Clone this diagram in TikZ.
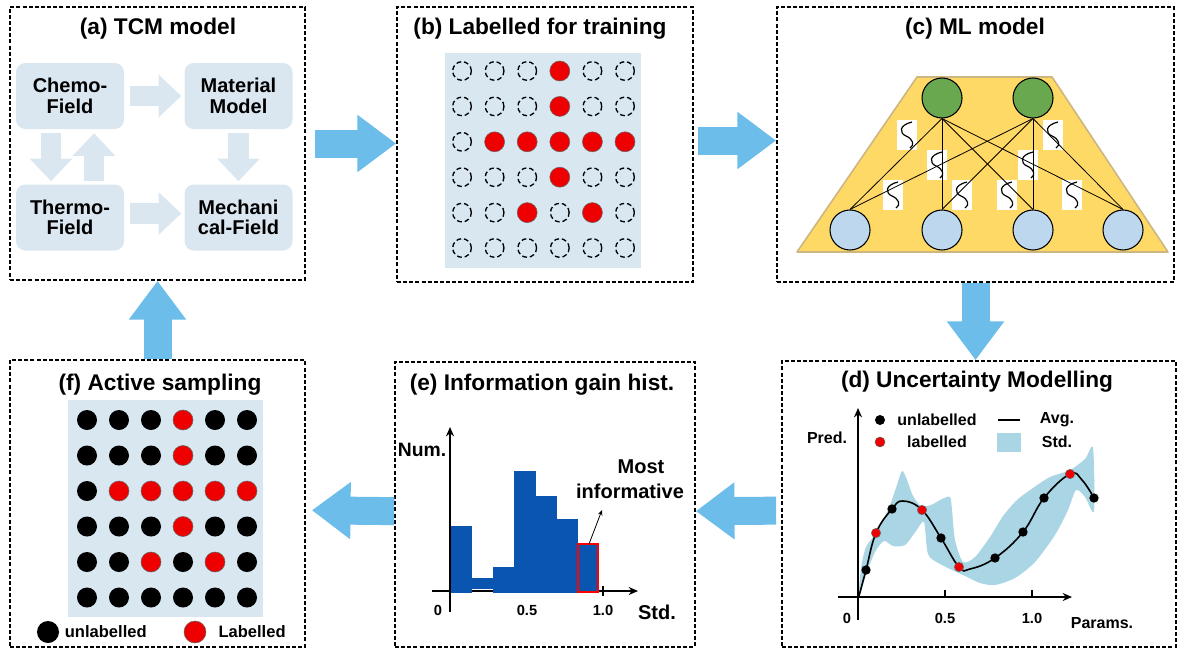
\documentclass[tikz,border=0pt]{standalone}
\usepackage{fontspec}
\setmainfont{Liberation Sans}
\usetikzlibrary{arrows.meta, positioning, calc, fit}
\definecolor{flowblue}{HTML}{6CBDE9}
\definecolor{fieldblue}{HTML}{DAE7F1}
\definecolor{gridblue}{HTML}{D8E7F0}
\definecolor{pointred}{HTML}{EE0000}
\definecolor{layeryellow}{HTML}{FFD966}
\definecolor{layeredge}{HTML}{CDB680}
\definecolor{outgreen}{HTML}{6AA84F}
\definecolor{inblue}{HTML}{BDD7EE}
\definecolor{stdblue}{HTML}{A9D5E4}
\definecolor{histblue}{HTML}{0A55B0}

\begin{document}
\begin{tikzpicture}[x=0.75pt, y=-0.75pt,
    panel/.style={draw, line width=1.3pt, dash pattern=on 3pt off 1.6pt, inner sep=0pt},
    ttl/.style={font=\fontsize{17}{20}\selectfont\bfseries},
    fieldbox/.style={fill=fieldblue, rounded corners=7pt, minimum width=81pt,
      minimum height=49.5pt, align=center, font=\fontsize{15}{15.5}\selectfont\bfseries},
    bigarrow/.style={draw=flowblue, line width=21pt, -{Triangle[length=29pt, width=41pt]}},
    fieldarrow/.style={draw=fieldblue, line width=15.5pt, -{Triangle[length=17pt, width=31pt]}},
    emptypt/.style={circle, draw, line width=1pt, dash pattern=on 3.6pt off 2.2pt,
      minimum size=14pt, inner sep=0pt},
    labpt/.style={circle, fill=pointred, draw=black!60, line width=0.4pt,
      minimum size=15pt, inner sep=0pt},
    unlabpt/.style={circle, fill=black, minimum size=15pt, inner sep=0pt},
    outnode/.style={circle, draw, line width=0.8pt, fill=outgreen, minimum size=30pt, inner sep=0pt},
    innode/.style={circle, draw, line width=0.8pt, fill=inblue, minimum size=30pt, inner sep=0pt},
    sigbox/.style={fill=white, minimum width=15pt, minimum height=22.5pt, inner sep=0pt},
    squiggle/.pic={\draw[line width=0.9pt]
        (5,-13) .. controls (-8,-10) and (-8,-2) .. (-1,1)
        .. controls (6,4) and (8,10) .. (3,13);},
    axisline/.style={line width=2pt, -{Stealth[length=7pt, width=6pt]}},
    lbl/.style={font=\fontsize{12}{14}\selectfont\bfseries, inner sep=1pt},
    numlbl/.style={font=\fontsize{11}{13}\selectfont\bfseries, inner sep=1pt},
    biglbl/.style={font=\fontsize{15}{17}\selectfont\bfseries, inner sep=1pt}
  ]
  \useasboundingbox (0,0) rectangle (1180,653);

  % panels
  \node[panel, fit={(10,7) (305,280)}] (pa) {};
  \node[panel, fit={(397,7) (693,282)}] (pb) {};
  \node[panel, fit={(777,7) (1174,282)}] (pc) {};
  \node[panel, fit={(782,361) (1176,647)}] (pd) {};
  \node[panel, fit={(395,362) (695,647)}] (pe) {};
  \node[panel, fit={(10,360) (305,647)}] (pf) {};

  % flow between panels
  \draw[bigarrow] ([xshift=6.75pt]pa.east) -- (pa.east -| pb.west);
  \draw[bigarrow] ([xshift=3pt, yshift=3pt]pb.east) -- ([yshift=3pt]pc.west);
  \draw[bigarrow] (pc.south) -- (pc.south |- pd.north);
  \draw[bigarrow] ([xshift=-3.75pt, yshift=-5pt]pd.west) -- ([yshift=-5pt]pe.east);
  \draw[bigarrow, shorten >=4.5pt] ([yshift=-5pt]pe.west) -- ([yshift=-5pt]pf.east);
  \draw[bigarrow] (pf.north) -- (pa.south);

  % (a) TCM model
  \node[ttl] (ttla) at (158,29) {(a) TCM model};
  \node[fieldbox] (chemo) at (70,96) {Chemo-\\Field};
  \node[fieldbox] (material) at (238.5,96) {Material\\Model};
  \node[fieldbox] (thermo) at (70,217.5) {Thermo-\\Field};
  \node[fieldbox] (mech) at (238.5,217.5) {Mechani\\cal-Field};
  \draw[fieldarrow] ([xshift=4.5pt]chemo.east) -- ([xshift=-2.25pt]material.west);
  \draw[fieldarrow] ([xshift=4.5pt, yshift=3pt]thermo.east) -- ([xshift=-2.25pt, yshift=3pt]mech.west);
  \draw[fieldarrow] ([xshift=-14.25pt, yshift=-3pt]chemo.south) -- ([xshift=-14.25pt, yshift=2.25pt]thermo.north);
  \draw[fieldarrow] ([xshift=18pt, yshift=2.25pt]thermo.north) -- ([xshift=18pt, yshift=-3pt]chemo.south);
  \draw[fieldarrow] ([yshift=-3pt]material.south) -- ([yshift=2.25pt]mech.north);

  % (b) Labelled for training
  \node[ttl] (ttlb) at (540,29) {(b) Labelled for training};
  \fill[gridblue] (445,53) rectangle (641,268);
  \foreach \row [count=\j] in {{0,0,0,1,0,0},{0,0,0,1,0,0},{0,1,1,1,1,1},
                                {0,0,0,1,0,0},{0,0,1,0,1,0},{0,0,0,0,0,0}}
    \foreach \v [count=\i] in \row {
      \ifnum\v=1
        \node[labpt] (b\j\i) at ({462+32.6*(\i-1)}, {71+35.4*(\j-1)}) {};
      \else
        \node[emptypt] (b\j\i) at ({462+32.6*(\i-1)}, {71+35.4*(\j-1)}) {};
      \fi
    }

  % (c) ML model
  \node[ttl] (ttlc) at (975,29) {(c) ML model};
  \fill[layeryellow, draw=layeredge, line width=1.2pt, line join=round]
    (917,77) -- (1052,77) -- (1168,252) -- (797,252) -- cycle;
  \node[outnode] (out1) at (942,98) {};
  \node[outnode] (out2) at (1033,98) {};
  \foreach \px [count=\k] in {850,942,1033,1123}
    \node[innode] (in\k) at (\px,230) {};
  \foreach \px/\py [count=\k] in {907/135, 937/165, 893/195, 962/195,
                                  1007/195, 1028/165, 1053/135, 1072/195} {
    \node[sigbox] (sig\k) at (\px,\py) {};
    \pic at (sig\k) {squiggle};
  }
  \foreach \o in {1,2}
    \foreach \k in {1,...,4}
      \draw[line width=0.6pt] (out\o.south) -- (in\k.north);

  % (d) Uncertainty Modelling
  \node[ttl] (ttld) at (977,382) {(d) Uncertainty Modelling};
  \fill[stdblue] plot[smooth cycle, tension=0.45] coordinates {
    (859,596) (861,568) (866,547) (876,533) (888,510) (896,488) (902,471)
    (907,480) (913,496) (921,506) (931,505) (942,499) (950,497) (952,510)
    (955,540) (963,562) (975,557) (990,537) (1003,516) (1017,500) (1033,488)
    (1050,477) (1070,470) (1085,459) (1093,448) (1094,511) (1085,497)
    (1076,490) (1068,510) (1055,535) (1035,562) (1015,578) (995,585)
    (980,583) (965,576) (940,564) (928,554) (924,522) (916,531) (905,545)
    (893,546) (884,541) (875,552) (866,575)};
  \draw[axisline] (858,620) -- (858,408);
  \draw[axisline] (838,597) -- (1072,597);
  \draw[line width=1pt] (945,590) -- (945,597);
  \draw[line width=1pt] (1032,590) -- (1032,597);
  \draw[line width=1.2pt] plot[smooth, tension=0.7] coordinates {
    (859,596) (866,570) (876,533) (892,509) (903,501) (922,510) (941,538)
    (959,567) (970,569) (995,558) (1023,532) (1044,498) (1070,474) (1082,480)
    (1094,498)};
  \foreach \px/\py [count=\k] in {866/570, 892/509, 941/538, 995/558,
                                  1023/532, 1044/498, 1094/498}
    \node[unlabpt, minimum size=7pt] (du\k) at (\px,\py) {};
  \foreach \px/\py [count=\k] in {876/533, 922/510, 959/567, 1070/474}
    \node[labpt, minimum size=7pt] (dl\k) at (\px,\py) {};
  \node[unlabpt, minimum size=7.5pt] (legdu) at (880,420) {};
  \node[lbl] (legdut) at (937,420) {unlabelled};
  \node[labpt, minimum size=7.5pt] (legdl) at (880,442) {};
  \node[lbl] (legdlt) at (937,442) {labelled};
  \draw[line width=1.2pt] (998,420) -- (1020,420);
  \fill[stdblue] (997,433) rectangle (1021,452);
  \node[lbl] (legavg) at (1057,420) {Avg.};
  \node[lbl] (legstd) at (1057,442) {Std.};
  \node[lbl] (pred) at (827,438) {Pred.};
  \node[lbl] (params) at (1102,623) {Params.};
  \node[numlbl] (dzero) at (847,618) {0};
  \node[numlbl] (dhalf) at (945,618) {0.5};
  \node[numlbl] (done) at (1032,618) {1.0};

  % (e) Information gain hist.
  \node[ttl] (ttle) at (542,385) {(e) Information gain hist.};
  \draw[axisline] (450,612) -- (450,427);
  \draw[axisline] (432,591) -- (638,591);
  \draw[line width=1pt] (603,586) -- (603,596);
  \foreach \xa/\xb/\yt/\yb in {451/472/526/593, 472/493/578/589, 493/514/567/593,
                               514/536/471/593, 536/557/496/593, 557/578/519/593}
    \fill[histblue] (\xa,\yt) rectangle (\xb,\yb);
  \draw[fill=histblue, draw=red, line width=1.1pt] (578,544) rectangle (598,592);
  \coordinate (mibar) at (589,544);
  \coordinate (mitip) at (602,510);
  \draw[line width=0.6pt, -{Stealth[length=4pt, width=3.5pt]}] (mibar) -- (mitip);
  \node[biglbl] (most) at (641,467) {Most};
  \node[biglbl] (informative) at (630,491) {informative};
  \node[biglbl, font=\fontsize{14.5}{17}\selectfont\bfseries] (num) at (422,450) {Num.};
  \node[biglbl] (estd) at (657,612) {Std.};
  \node[numlbl] (ezero) at (438,610) {0};
  \node[numlbl] (ehalf) at (527,610) {0.5};
  \node[numlbl] (eone) at (603,610) {1.0};

  % (f) Active sampling
  \node[ttl] (ttlf) at (160,385) {(f) Active sampling};
  \fill[gridblue] (68,400) rectangle (263,617);
  \foreach \row [count=\j] in {{0,0,0,1,0,0},{0,0,0,1,0,0},{0,1,1,1,1,1},
                                {0,0,0,1,0,0},{0,0,1,0,1,0},{0,0,0,0,0,0}}
    \foreach \v [count=\i] in \row {
      \ifnum\v=1
        \node[labpt] (f\j\i) at ({87+32*(\i-1)}, {420+35.5*(\j-1)}) {};
      \else
        \node[unlabpt] (f\j\i) at ({87+32*(\i-1)}, {420+35.5*(\j-1)}) {};
      \fi
    }
  \node[unlabpt, minimum size=16.5pt] (legfu) at (48,632) {};
  \node[lbl, font=\fontsize{12.4}{14}\selectfont\bfseries, right=3pt of legfu] (legfut) {unlabelled};
  \node[labpt, minimum size=16.5pt] (legfl) at (195,632) {};
  \node[lbl, font=\fontsize{12.4}{14}\selectfont\bfseries, right=8pt of legfl] (legflt) {Labelled};
\end{tikzpicture}
\end{document}
